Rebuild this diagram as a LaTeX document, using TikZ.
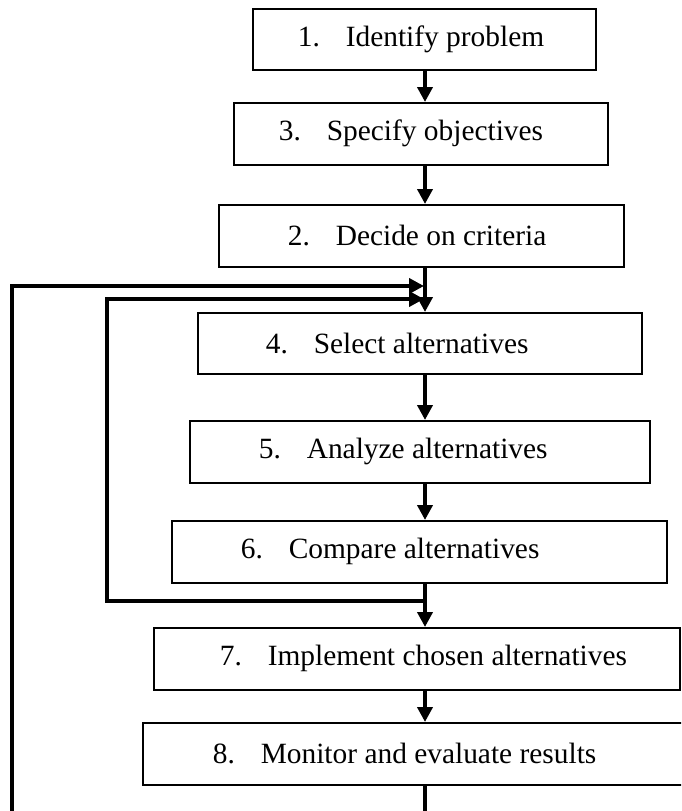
\documentclass[tikz,border=0pt]{standalone}
\usepackage{fontspec}
\setmainfont{Liberation Serif}
\usetikzlibrary{arrows.meta}
\newcommand\flowtext[4]{\makebox[#1][l]{\hspace{#2}\makebox[48pt][l]{#3}#4}}
\begin{document}
\begin{tikzpicture}[x=1pt,y=-1pt,
  box/.style={draw=black, line width=1.6pt, rectangle, inner sep=0pt, anchor=north west,
    font=\fontsize{29.4}{34}\selectfont},
  flow/.style={line width=3.8pt, -{Triangle[length=15pt,width=15pt]}},
  loopline/.style={line width=3.8pt, -{Triangle[length=15pt,width=15pt]}}]
\useasboundingbox (0,0) rectangle (681,811);
\clip (0,0) rectangle (681,811);
\node[box, minimum width=343pt, minimum height=61pt] (b1) at (252,8) {\flowtext{343pt}{45pt}{1.}{Identify problem}};
\node[box, minimum width=374pt, minimum height=62pt] (b2) at (233,102) {\flowtext{374pt}{45pt}{3.}{Specify objectives}};
\node[box, minimum width=405pt, minimum height=62pt] (b3) at (218,204) {\flowtext{405pt}{69pt}{2.}{Decide on criteria}};
\node[box, minimum width=444pt, minimum height=61pt] (b4) at (197,312) {\flowtext{444pt}{68pt}{4.}{Select alternatives}};
\node[box, minimum width=460pt, minimum height=62pt] (b5) at (189,420) {\flowtext{460pt}{69pt}{5.}{Analyze alternatives}};
\node[box, minimum width=495pt, minimum height=62pt] (b6) at (171,520) {\flowtext{495pt}{69pt}{6.}{Compare alternatives}};
\node[box, minimum width=526pt, minimum height=62pt] (b7) at (153,627) {\flowtext{526pt}{66pt}{7.}{Implement chosen alternatives}};
\node[box, minimum width=560pt, minimum height=62pt] (b8) at (142,722) {\flowtext{560pt}{70pt}{8.}{Monitor and evaluate results}};
\coordinate (col) at (425,0);
\draw[flow] (b1.south -| col) -- (b2.north -| col);
\draw[flow] (b2.south -| col) -- (b3.north -| col);
\draw[flow] (b3.south -| col) -- (b4.north -| col);
\draw[flow] (b4.south -| col) -- (b5.north -| col);
\draw[flow] (b5.south -| col) -- (b6.north -| col);
\draw[flow] (b6.south -| col) -- (b7.north -| col);
\draw[flow] (b7.south -| col) -- (b8.north -| col);
\coordinate (innercorner) at (107,601);
\coordinate (innerend) at (424,299);
\coordinate (outercorner) at (12,840);
\coordinate (outerend) at (424,286);
\draw[loopline] (col |- innercorner) -- (innercorner) |- (innerend);
\draw[loopline] (b8.south -| col) -- (col |- outercorner) -- (outercorner) |- (outerend);
\end{tikzpicture}
\end{document}
